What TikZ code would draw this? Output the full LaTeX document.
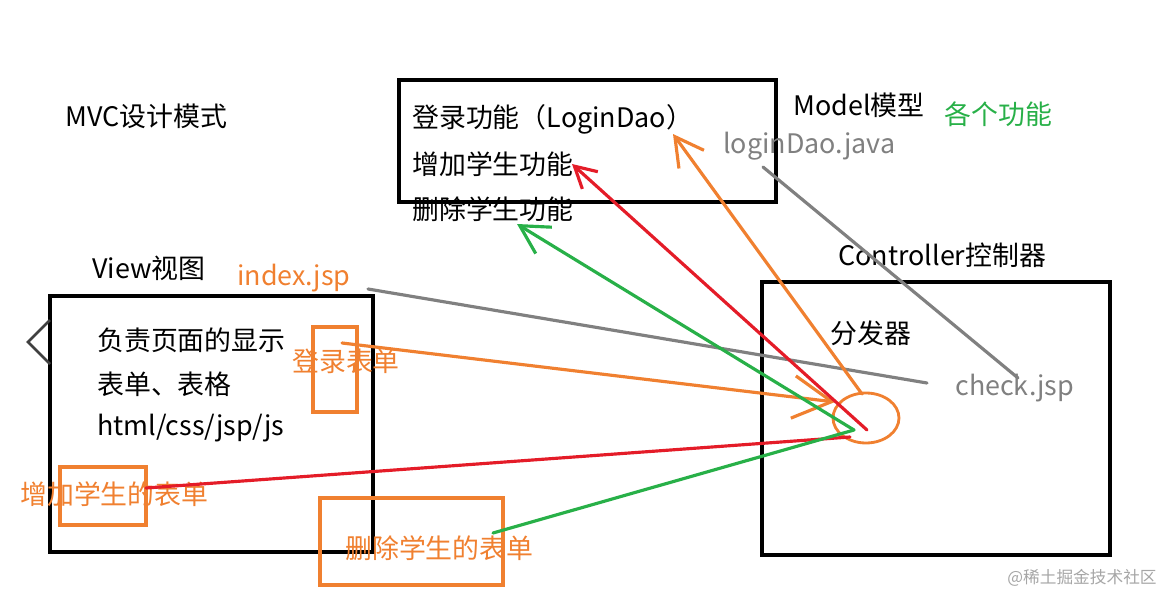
\documentclass[tikz,border=0pt]{standalone}
\usepackage{fontspec}
\setmainfont{Noto Sans CJK SC}
\usetikzlibrary{arrows.meta, shapes.geometric}

\definecolor{penorange}{RGB}{240,128,48}
\definecolor{penred}{RGB}{228,28,40}
\definecolor{pengreen}{RGB}{40,176,72}
\definecolor{pengray}{RGB}{128,128,128}

\begin{document}
\begin{tikzpicture}[
    x=0.02cm, y=-0.02cm,
    txt/.style={anchor=west, inner sep=0pt, font=\fontsize{15.3}{18}\selectfont},
    frame/.style={draw=black, line width=2.2pt},
    pen/.style={line width=1.8pt, line cap=round},
    barb/.style={-{Straight Barb[length=#1, width=1.1*#1, line width=1.8pt]}},
    barb/.default=14pt
]
\useasboundingbox (0,0) rectangle (1164,595);

% Titles
\node[txt] (mvc) at (65,116) {MVC设计模式};
\node[txt] (modeltitle) at (793,105) {Model模型};
\node[txt, text=pengreen] (funcs) at (944,114) {各个功能};
\node[txt] (viewtitle) at (92,268) {View视图};
\node[txt] (ctrltitle) at (838,255) {Controller控制器};

% Model box
\draw[frame] (399,80) rectangle (776,202);
\node[txt] (login) at (412,119) {登录功能（LoginDao）};
\node[txt] (addfn) at (412,164) {增加学生功能};
\node[txt] (delfn) at (412,209) {删除学生功能};
\node[txt, text=pengray] (daofile) at (723,146) {loginDao.java};

% View box
\draw[frame] (50,296) rectangle (373,552);
\draw[line width=1.5pt, draw=black!75] (50,320) -- (28,342) -- (50,364);
\node[txt] (view1) at (97,340) {负责页面的显示};
\node[txt] (view2) at (97,384) {表单、表格};
\node[txt] (view3) at (97,428) {html/css/jsp/js};
\node[txt, text=penorange] (index) at (237,278) {index.jsp};

% Forms
\draw[draw=penorange, line width=1.8pt] (313,327) rectangle (357,412);
\node[txt, text=penorange] (loginform) at (292,361) {登录表单};
\draw[draw=penorange, line width=1.8pt] (60,467) rectangle (146,525);
\node[txt, text=penorange] (addform) at (20,494) {增加学生的表单};
\draw[draw=penorange, line width=1.8pt] (320,498) rectangle (503,585);
\node[txt, text=penorange] (delform) at (345,548) {删除学生的表单};

% Controller box
\draw[frame] (762,282) rectangle (1110,555);
\node[txt] (disptitle) at (830,333) {分发器};
\node[txt, text=pengray] (check) at (955,388) {check.jsp};
\node[draw=penorange, line width=1.6pt, ellipse, inner sep=0pt,
      minimum width=1.32cm, minimum height=1cm] (disp) at (866,418) {};

% Points of the hand-drawn strokes
\coordinate (loginform-end) at (342,343);
\coordinate (disp-in) at (835,402);
\coordinate (disp-top) at (862,394);
\coordinate (login-end) at (673,134);
\coordinate (disp-red) at (867,430);
\coordinate (addfn-end) at (572,164);
\coordinate (disp-green) at (854,430);
\coordinate (delfn-end) at (517,224);
\coordinate (addform-end) at (146,488);
\coordinate (disp-low) at (850,437);
\coordinate (delform-end) at (493,533);
\coordinate (index-end) at (368,289);
\coordinate (check-end) at (927,383);
\coordinate (daofile-end) at (763,167);
\coordinate (check-top) at (1018,378);

% Gray links
\draw[pen, draw=pengray] (index-end) -- (check-end);
\draw[pen, draw=pengray] (daofile-end) -- (check-top);

% Requests from the view to the dispatcher
\draw[pen, draw=penorange, barb=22pt] (loginform-end) -- (disp-in);
\draw[pen, draw=penred] (addform-end) -- (disp-low);
\draw[pen, draw=pengreen] (delform-end) -- (disp-green);

% Dispatch to the model
\draw[pen, draw=penorange, barb=16pt] (disp-top) -- (login-end);
\draw[pen, draw=penred, barb=12pt] (disp-red) -- (addfn-end);
\draw[pen, draw=pengreen, barb=16pt] (disp-green) -- (delfn-end);

% Watermark
\node[anchor=east, inner sep=0pt, text=black!35, font=\fontsize{9.5}{11}\selectfont]
    (mark) at (1157,578) {@稀土掘金技术社区};
\end{tikzpicture}
\end{document}
